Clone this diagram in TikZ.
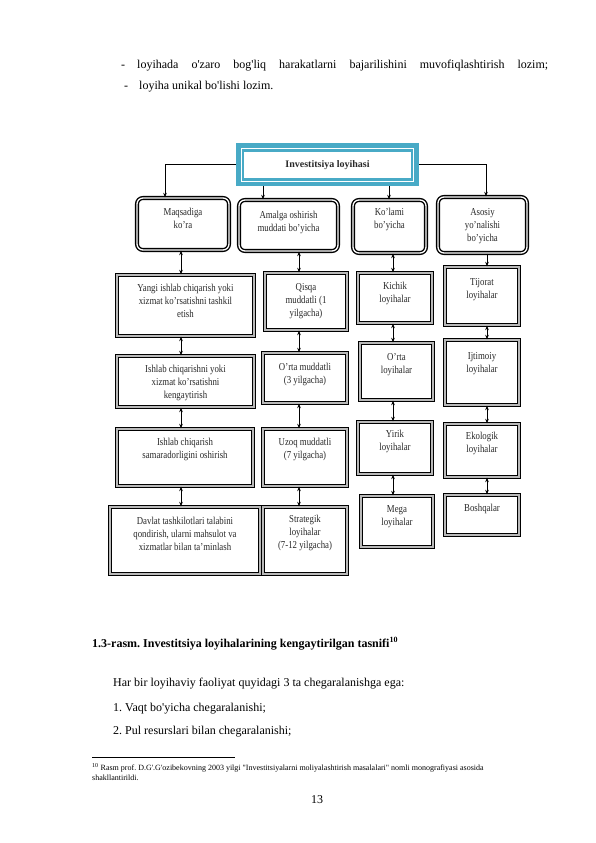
\documentclass[tikz,border=0pt]{standalone}
\usepackage{fontspec}
\setmainfont{Liberation Serif}
\newfontfamily\diagfont[FakeStretch=0.83]{Liberation Serif}
\usetikzlibrary{arrows.meta,calc}
\definecolor{tealbox}{RGB}{72,170,198}
\definecolor{ink}{RGB}{40,40,40}
\newcommand{\ap}{\textquotesingle}
\frenchspacing
\tikzset{
  rbox/.style={draw=black, line width=1.4pt, double=white, double distance=1.3pt, rounded corners=6pt, inner sep=0pt},
  sbox/.style={draw=black, line width=1.4pt, double=gray!55, double distance=1.1pt, inner sep=0pt},
  lbl/.style={anchor=north, align=center, inner sep=0pt, text=ink, font=\diagfont\fontsize{10.6}{12.9}\selectfont},
  arr/.style={line width=0.8pt, -{Stealth[length=4.5pt,width=3.6pt]}},
  dbl/.style={line width=0.8pt, {Stealth[length=4.5pt,width=3.6pt]}-{Stealth[length=4.5pt,width=3.6pt]}},
  body/.style={anchor=base west, inner sep=0pt, font=\fontsize{12}{14}\selectfont},
}
\begin{document}
\begin{tikzpicture}[x=1pt,y=-1pt]
\useasboundingbox[fill=white] (0,0) rectangle (596,843);

% body text
\node[body] (d1) at (121,68) {-};
\node[body] (t1) at (137,68) {\makebox[411pt][s]{loyihada o\ap zaro bog\ap liq harakatlarni bajarilishini muvofiqlashtirish lozim;}};
\node[body] (d2) at (124,89) {-};
\node[body] (t2) at (139,89) {loyiha unikal bo\ap lishi lozim.};

% top box
\node[fill=tealbox, minimum width=183pt, minimum height=43pt, inner sep=0pt] (top) at (327.5,164.5) {};
\node[draw=white, line width=0.6pt, minimum width=172pt, minimum height=33pt, inner sep=0pt] (topl) at (327.5,164.5) {};
\node[fill=white, minimum width=167pt, minimum height=26pt, inner sep=0pt, font=\bfseries\fontsize{10}{11}\selectfont, text=ink] (topt) at (327.5,165) {Investitsiya loyihasi};

% column x references
\coordinate (xm1) at (165,0);
\coordinate (xm2) at (263,0);
\coordinate (xm3) at (389,0);
\coordinate (xm4) at (486,0);
\coordinate (c1) at (181,0);
\coordinate (c2) at (299,0);
\coordinate (c3) at (393,0);
\coordinate (c4) at (487,0);

% level 1
\node[rbox, minimum width=92pt, minimum height=52pt] (m1) at (183,224) {};
\node[rbox, minimum width=99pt, minimum height=51pt] (m2) at (288.5,225.5) {};
\node[rbox, minimum width=73pt, minimum height=53pt] (m3) at (389.5,226.5) {};
\node[rbox, minimum width=89pt, minimum height=56pt] (m4) at (482.5,225) {};
\node[lbl] (lm1) at (183,208) {Maqsadiga\\ko’ra};
\node[lbl] (lm2) at (288.5,211) {Amalga oshirish\\muddati bo’yicha};
\node[lbl] (lm3) at (389.5,208) {Ko’lami\\bo’yicha};
\node[lbl] (lm4) at (482.5,208) {Asosiy\\yo’nalishi\\bo’yicha};

% column 1
\node[sbox, minimum width=137pt, minimum height=61pt] (a1) at (185.5,305.5) {};
\node[sbox, minimum width=137pt, minimum height=51pt] (a2) at (185.5,381.5) {};
\node[sbox, minimum width=136pt, minimum height=57pt] (a3) at (185,457.5) {};
\node[sbox, minimum width=150pt, minimum height=67pt] (a4) at (185,540.5) {};
\node[lbl] (la1) at (185.5,284) {Yangi ishlab chiqarish yoki\\xizmat ko’rsatishni tashkil\\etish};
\node[lbl] (la2) at (185.5,365) {Ishlab chiqarishni yoki\\xizmat ko’rsatishni\\kengaytirish};
\node[lbl] (la3) at (185,438) {Ishlab chiqarish\\samaradorligini oshirish};
\node[lbl] (la4) at (185,517) {Davlat tashkilotlari talabini\\qondirish, ularni mahsulot va\\xizmatlar bilan ta’minlash};

% column 2
\node[sbox, minimum width=82pt, minimum height=57pt] (b1) at (306,301.5) {};
\node[sbox, minimum width=84pt, minimum height=50pt] (b2) at (305,378) {};
\node[sbox, minimum width=84pt, minimum height=57pt] (b3) at (305,457.5) {};
\node[sbox, minimum width=84pt, minimum height=67pt] (b4) at (305,540.5) {};
\node[lbl] (lb1) at (306,283) {Qisqa\\muddatli (1\\yilgacha)};
\node[lbl] (lb2) at (305,363) {O’rta muddatli\\(3 yilgacha)};
\node[lbl] (lb3) at (305,438) {Uzoq muddatli\\(7 yilgacha)};
\node[lbl] (lb4) at (305,515) {Strategik\\loyihalar\\(7-12 yilgacha)};

% column 3
\node[sbox, minimum width=74pt, minimum height=50pt] (k1) at (395,298) {};
\node[sbox, minimum width=73pt, minimum height=57pt] (k2) at (396.5,371.5) {};
\node[sbox, minimum width=74pt, minimum height=52pt] (k3) at (395,448) {};
\node[sbox, minimum width=72pt, minimum height=51pt] (k4) at (397,521.5) {};
\node[lbl] (lk1) at (395,282) {Kichik\\loyihalar};
\node[lbl] (lk2) at (396.5,353) {O’rta\\loyihalar};
\node[lbl] (lk3) at (395,430) {Yirik\\loyihalar};
\node[lbl] (lk4) at (397,505) {Mega\\loyihalar};

% column 4
\node[sbox, minimum width=74pt, minimum height=58pt] (t1b) at (482,296) {};
\node[sbox, minimum width=74pt, minimum height=65pt] (t2b) at (482,372.5) {};
\node[sbox, minimum width=74pt, minimum height=53pt] (t3b) at (482,450.5) {};
\node[sbox, minimum width=74pt, minimum height=40pt] (t4b) at (482,515) {};
\node[lbl] (lt1) at (482,278) {Tijorat\\loyihalar};
\node[lbl] (lt2) at (482,352) {Ijtimoiy\\loyihalar};
\node[lbl] (lt3) at (482,432) {Ekologik\\loyihalar};
\node[lbl] (lt4) at (482,504) {Boshqalar};

% top connectors
\draw[arr] (top.west) -| (xm1 |- m1.north);
\draw[arr] (xm2 |- top.south) -- (xm2 |- m2.north);
\draw[arr] (xm3 |- top.south) -- (xm3 |- m3.north);
\draw[arr] (top.east) -| (xm4 |- m4.north);

% level1 -> row 2
\draw[dbl] (c1 |- m1.south) -- (c1 |- a1.north);
\draw[dbl] (c2 |- m2.south) -- (c2 |- b1.north);
\draw[dbl] (c3 |- m3.south) -- (c3 |- k1.north);
\draw[arr] (c4 |- m4.south) -- (c4 |- t1b.north);

% column chains
\draw[dbl] (c1 |- a1.south) -- (c1 |- a2.north);
\draw[dbl] (c1 |- a2.south) -- (c1 |- a3.north);
\draw[dbl] (c1 |- a3.south) -- (c1 |- a4.north);
\draw[dbl] (c2 |- b1.south) -- (c2 |- b2.north);
\draw[dbl] (c2 |- b2.south) -- (c2 |- b3.north);
\draw[dbl] (c2 |- b3.south) -- (c2 |- b4.north);
\draw[dbl] (c3 |- k1.south) -- (c3 |- k2.north);
\draw[dbl] (c3 |- k2.south) -- (c3 |- k3.north);
\draw[dbl] (c3 |- k3.south) -- (c3 |- k4.north);
\draw[dbl] (c4 |- t1b.south) -- (c4 |- t2b.north);
\draw[dbl] (c4 |- t2b.south) -- (c4 |- t3b.north);
\draw[dbl] (c4 |- t3b.south) -- (c4 |- t4b.north);

% caption and following text
\node[body, font=\bfseries\fontsize{12}{14}\selectfont] (cap) at (92,647) {1.3-rasm. Investitsiya loyihalarining kengaytirilgan tasnifi\textsuperscript{10}};
\node[body] (p1) at (113,686) {Har bir loyihaviy faoliyat quyidagi 3 ta chegaralanishga ega:};
\node[body] (p2) at (113,711) {1. Vaqt bo\ap yicha chegaralanishi;};
\node[body] (p3) at (113,734) {2. Pul resurslari bilan chegaralanishi;};

% footnote
\coordinate (fr1) at (92,757);
\coordinate (fr2) at (235,757);
\draw[line width=0.5pt] (fr1) -- (fr2);
\node[body, font=\fontsize{8}{10}\selectfont] (fn1) at (92,770) {\textsuperscript{10} Rasm prof. D.G\ap.G\ap ozibekovning 2003 yilgi \textquotedbl Investitsiyalarni moliyalashtirish masalalari\textquotedbl{} nomli monografiyasi asosida};
\node[body, font=\fontsize{8}{10}\selectfont] (fn2) at (92,780) {shakllantirildi.};

% page number
\node[anchor=base, inner sep=0pt, font=\fontsize{12}{14}\selectfont] (pg) at (317,803) {13};
\end{tikzpicture}
\end{document}
